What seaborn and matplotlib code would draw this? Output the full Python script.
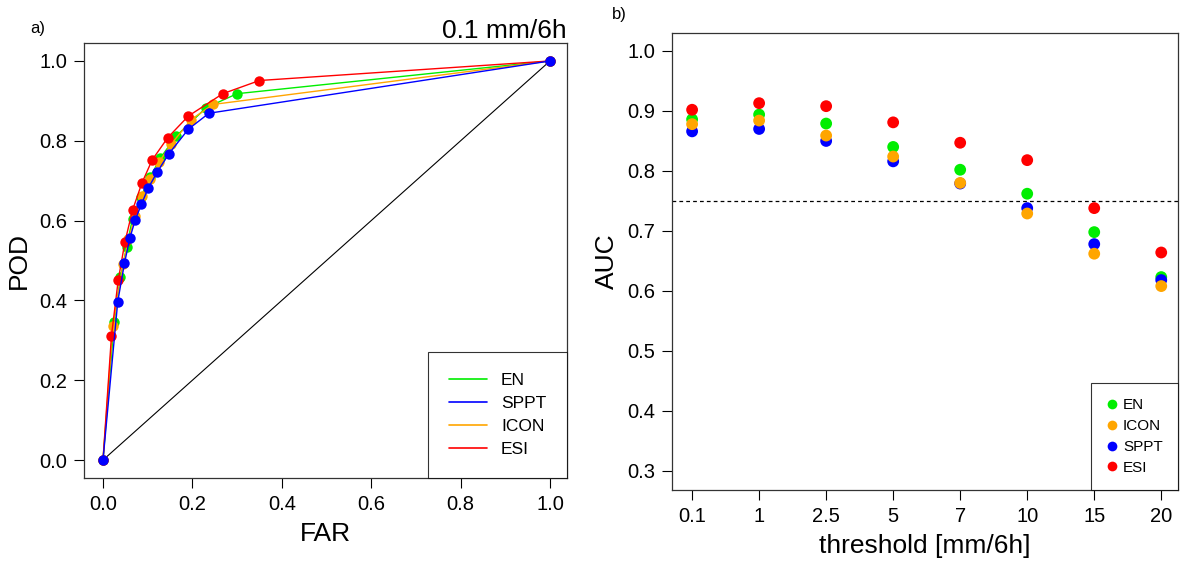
import numpy as np
import pandas as pd
import matplotlib
matplotlib.use("Agg")
import matplotlib.pyplot as plt
from matplotlib.lines import Line2D
import seaborn as sns

# ---------------- data ----------------
# ROC curves (panel a), threshold 0.1 mm/6h
far_en = [0.0, 0.025, 0.039, 0.053, 0.066, 0.085, 0.105, 0.128, 0.163, 0.231, 0.300, 1.0]
pod_en = [0.0, 0.347, 0.458, 0.535, 0.605, 0.660, 0.708, 0.756, 0.811, 0.883, 0.918, 1.0]
far_sppt = [0.0, 0.033, 0.048, 0.060, 0.072, 0.086, 0.101, 0.121, 0.147, 0.191, 0.237, 1.0]
pod_sppt = [0.0, 0.397, 0.493, 0.556, 0.601, 0.641, 0.681, 0.721, 0.767, 0.829, 0.869, 1.0]
far_icon = [0.0, 0.022, 0.045, 0.057, 0.072, 0.087, 0.105, 0.126, 0.153, 0.197, 0.246, 1.0]
pod_icon = [0.0, 0.335, 0.490, 0.553, 0.612, 0.662, 0.703, 0.748, 0.792, 0.853, 0.891, 1.0]
far_esi = [0.0, 0.019, 0.034, 0.049, 0.066, 0.087, 0.110, 0.145, 0.191, 0.268, 0.350, 1.0]
pod_esi = [0.0, 0.312, 0.450, 0.546, 0.626, 0.694, 0.752, 0.808, 0.862, 0.918, 0.951, 1.0]

# AUC (panel b)
thresholds = ["0.1", "1", "2.5", "5", "7", "10", "15", "20"]
auc_en = [0.886, 0.894, 0.879, 0.840, 0.802, 0.762, 0.698, 0.623]
auc_icon = [0.878, 0.884, 0.859, 0.824, 0.780, 0.729, 0.662, 0.608]
auc_sppt = [0.866, 0.870, 0.850, 0.816, 0.779, 0.738, 0.678, 0.618]
auc_esi = [0.902, 0.913, 0.908, 0.881, 0.847, 0.818, 0.738, 0.664]

colors = {"EN": "#00EE00", "SPPT": "#0000FF", "ICON": "#FFA500", "ESI": "#FF0000"}

roc = pd.concat([
    pd.DataFrame({"FAR": far_en, "POD": pod_en, "model": "EN"}),
    pd.DataFrame({"FAR": far_icon, "POD": pod_icon, "model": "ICON"}),
    pd.DataFrame({"FAR": far_esi, "POD": pod_esi, "model": "ESI"}),
    pd.DataFrame({"FAR": far_sppt, "POD": pod_sppt, "model": "SPPT"}),
], ignore_index=True)

auc = pd.concat([
    pd.DataFrame({"threshold": thresholds, "AUC": auc_en, "model": "EN"}),
    pd.DataFrame({"threshold": thresholds, "AUC": auc_sppt, "model": "SPPT"}),
    pd.DataFrame({"threshold": thresholds, "AUC": auc_icon, "model": "ICON"}),
    pd.DataFrame({"threshold": thresholds, "AUC": auc_esi, "model": "ESI"}),
], ignore_index=True)

# ---------------- style ----------------
sns.set_style("ticks")
plt.rcParams["font.family"] = ["Liberation Sans", "DejaVu Sans"]
plt.rcParams["text.color"] = "black"
plt.rcParams["axes.labelcolor"] = "black"
plt.rcParams["xtick.color"] = "black"
plt.rcParams["ytick.color"] = "black"

fig = plt.figure(figsize=(11.8, 5.63), dpi=100)
ax1 = fig.add_axes([84 / 1180, 85 / 563, 483 / 1180, 435 / 563])
ax2 = fig.add_axes([672 / 1180, 73 / 563, 506 / 1180, 457 / 563])

# ---------------- panel a ----------------
ax1.plot([0, 1], [0, 1], color="black", lw=0.8, zorder=1)
sns.lineplot(data=roc, x="FAR", y="POD", hue="model", palette=colors,
             hue_order=["EN", "ICON", "ESI", "SPPT"], sort=False, estimator=None,
             marker="o", markersize=7.5, markeredgewidth=0, lw=1.0,
             legend=False, ax=ax1)
ax1.set_xlim(-0.0425, 1.038)
ax1.set_ylim(-0.045, 1.045)
ticks01 = np.arange(0, 1.01, 0.2)
ax1.set_xticks(ticks01)
ax1.set_yticks(ticks01)
ax1.set_xticklabels([f"{v:.1f}" for v in ticks01])
ax1.set_yticklabels([f"{v:.1f}" for v in ticks01])
ax1.set_xlabel("FAR", fontsize=19, labelpad=6)
ax1.set_ylabel("POD", fontsize=19, labelpad=6)
ax1.tick_params(labelsize=14.5, length=7, width=0.8, direction="out", pad=5)
for s in ax1.spines.values():
    s.set_visible(True)
    s.set_linewidth(0.9)
    s.set_color("#333333")
ax1.set_title("0.1 mm/6h", loc="right", fontsize=19, pad=2)
handles1 = [Line2D([], [], color=colors[m], lw=1.2) for m in ["EN", "SPPT", "ICON", "ESI"]]
leg1 = ax1.legend(handles1, ["EN", "SPPT", "ICON", "ESI"], loc="lower right",
                  fontsize=12.5, frameon=True, fancybox=False, edgecolor="black",
                  borderaxespad=0, borderpad=1.2, handlelength=2.2,
                  handletextpad=0.8, labelspacing=0.45)
leg1.get_frame().set_linewidth(0.8)
fig.text(30 / 1180, 1 - 28 / 563, "a)", fontsize=12, va="center")

# ---------------- panel b ----------------
ax2.axhline(0.75, color="black", lw=0.9, ls=(0, (3, 2.5)), zorder=1)
sns.stripplot(data=auc, x="threshold", y="AUC", hue="model", palette=colors,
              hue_order=["EN", "SPPT", "ICON", "ESI"], order=thresholds,
              jitter=False, dodge=False, size=8.5, linewidth=0,
              legend=False, ax=ax2, zorder=3)
ax2.set_xlim(-0.3, 7.25)
ax2.set_ylim(0.268, 1.03)
yt = np.arange(0.3, 1.01, 0.1)
ax2.set_yticks(yt)
ax2.set_yticklabels([f"{v:.1f}" for v in yt])
ax2.set_xlabel("threshold [mm/6h]", fontsize=19, labelpad=6)
ax2.set_ylabel("AUC", fontsize=19, labelpad=6)
ax2.tick_params(labelsize=14.5, length=7, width=0.8, direction="out", pad=5)
for s in ax2.spines.values():
    s.set_visible(True)
    s.set_linewidth(0.9)
    s.set_color("#333333")
handles2 = [Line2D([], [], color=colors[m], marker="o", ls="", markersize=7,
                   markeredgewidth=0) for m in ["EN", "ICON", "SPPT", "ESI"]]
leg2 = ax2.legend(handles2, ["EN", "ICON", "SPPT", "ESI"], loc="lower right",
                  fontsize=11, frameon=True, fancybox=False, edgecolor="black",
                  borderaxespad=0, borderpad=1.0, handlelength=0.8,
                  handletextpad=0.3, labelspacing=0.45)
leg2.get_frame().set_linewidth(0.8)
fig.text(612 / 1180, 1 - 15 / 563, "b)", fontsize=12, va="center")

fig.savefig("out.png", dpi=100)
